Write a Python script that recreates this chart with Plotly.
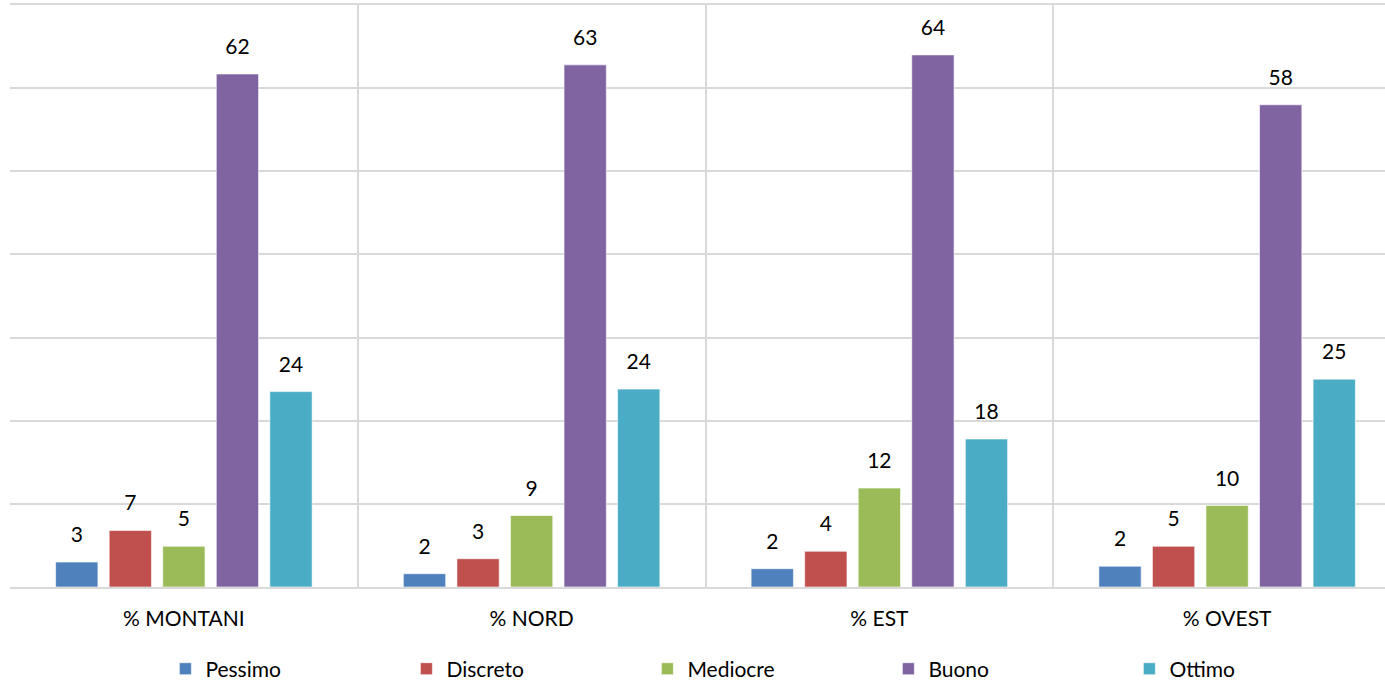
import plotly.graph_objects as go

categories = ["% MONTANI", "% NORD", "% EST", "% OVEST"]
series_names = ["Pessimo", "Discreto", "Mediocre", "Buono", "Ottimo"]
colors = ["#4F81BD", "#C0504D", "#9BBB59", "#8064A2", "#4BACC6"]

pessimo = [3.0, 1.6, 2.2, 2.5]
discreto = [6.8, 3.4, 4.3, 4.9]
mediocre = [4.9, 8.6, 11.9, 9.8]
buono = [61.7, 62.8, 64.0, 58.0]
ottimo = [23.5, 23.8, 17.8, 25.0]

pessimo_lbl = ["3", "2", "2", "2"]
discreto_lbl = ["7", "3", "4", "5"]
mediocre_lbl = ["5", "9", "12", "10"]
buono_lbl = ["62", "63", "64", "58"]
ottimo_lbl = ["24", "24", "18", "25"]

values = [pessimo, discreto, mediocre, buono, ottimo]
labels = [pessimo_lbl, discreto_lbl, mediocre_lbl, buono_lbl, ottimo_lbl]

FONT = "Lato"
FS = 21
xpos = list(range(len(categories)))

fig = go.Figure()
for i, name in enumerate(series_names):
    fig.add_trace(go.Bar(
        x=xpos, y=values[i], name=name,
        marker=dict(color=colors[i], line=dict(color="rgba(255,255,255,0.6)", width=1)),
        offsetgroup=str(i), alignmentgroup="a",
    ))
for i, name in enumerate(series_names):
    fig.add_trace(go.Scatter(
        x=xpos, y=values[i], text=labels[i], mode="markers+text",
        textposition="top center",
        textfont=dict(family=FONT, size=FS, color="#000000"),
        marker=dict(size=22, opacity=0),
        showlegend=False, hoverinfo="skip",
        offsetgroup=str(i), alignmentgroup="a",
    ))

fig.update_layout(
    width=1385, height=682,
    margin=dict(l=10, r=0, t=5, b=95, autoexpand=False),
    paper_bgcolor="white", plot_bgcolor="white",
    barmode="group", scattermode="group",
    bargap=0.23, bargroupgap=0.21, scattergap=0.23,
    font=dict(family=FONT, size=FS, color="#000000"),
    xaxis=dict(
        range=[-0.5, 3.454], tickvals=xpos, ticktext=categories,
        showgrid=False, zeroline=False, ticks="", ticklabelstandoff=12,
        showline=True, mirror=True, linecolor="#d9d9d9", linewidth=2,
        minor=dict(tickvals=[-0.5, 0.5, 1.5, 2.5, 3.5], showgrid=True,
                   gridcolor="#d9d9d9", gridwidth=2),
        tickfont=dict(family=FONT, size=FS, color="#000000"),
    ),
    yaxis=dict(
        range=[0, 70], dtick=10, showticklabels=False,
        showgrid=True, gridcolor="#d9d9d9", gridwidth=2,
        zeroline=False, ticks="",
    ),
    legend=dict(
        orientation="h", x=0.113, xanchor="left", y=-0.141, yanchor="middle",
        entrywidth=196, entrywidthmode="pixels",
        font=dict(family=FONT, size=FS, color="#000000"),
        traceorder="normal",
    ),
    showlegend=True,
)

fig.write_html(
    "out.html",
    config={"displayModeBar": False},
    post_script="document.body.style.margin='0';document.body.style.overflow='hidden';",
)
